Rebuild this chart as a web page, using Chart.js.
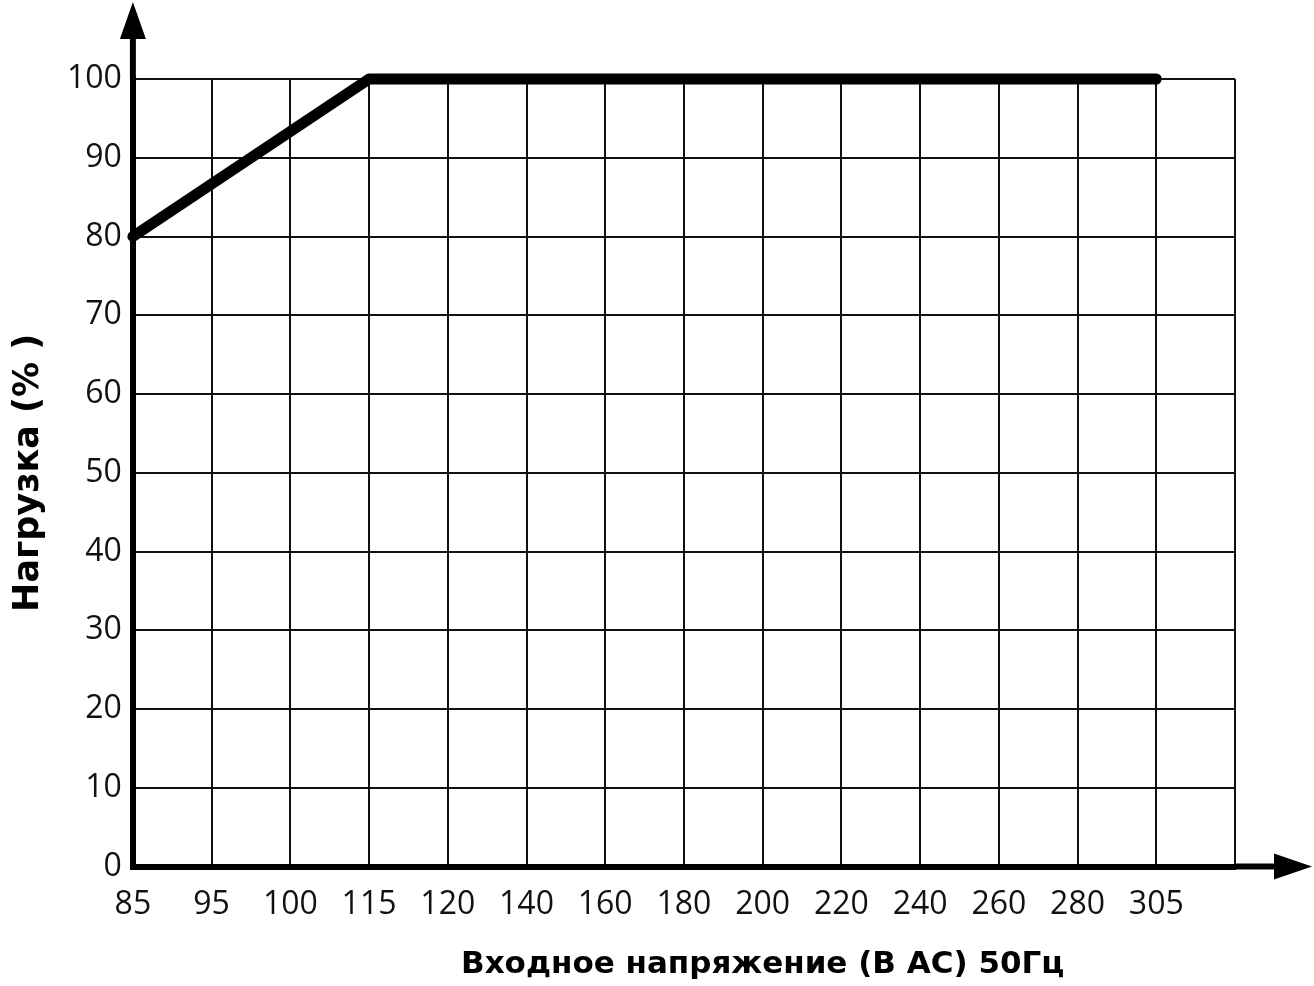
<!DOCTYPE html>
<html>
<head>
<meta charset="utf-8">
<script src="https://cdn.jsdelivr.net/npm/chart.js@4"></script>
<style>
  html, body { margin: 0; padding: 0; background: #fff; }
  #wrap { width: 1314px; height: 986px; }
</style>
</head>
<body>
<div id="wrap"><canvas id="chart"></canvas></div>
<script>
// input voltage categories (last one is an empty grid column)
const voltageLabels = ['85', '95', '100', '115', '120', '140', '160', '180', '200', '220', '240', '260', '280', '305', ''];
// load in %, null = no point (line spans straight across)
const loadValues = [80, null, null, 100, 100, 100, 100, 100, 100, 100, 100, 100, 100, 100, null];
const yTicks = [0, 10, 20, 30, 40, 50, 60, 70, 80, 90, 100];

const xTitle = 'Входное напряжение (В АС) 50Гц';
const yTitle = 'Нагрузка (% )';
const TICK_FONT = "'Open Sans', 'DejaVu Sans', sans-serif";
const TITLE_FONT = "'DejaVu Sans', 'Open Sans', sans-serif";

// draws the arrow heads on both axes and the x title
const axisArrows = {
    id: 'axisArrows',
    afterDraw(chart) {
        const ctx = chart.ctx;
        const area = chart.chartArea;
        const x = chart.scales.x;
        ctx.save();
        ctx.fillStyle = '#000';
        ctx.strokeStyle = '#000';
        ctx.lineWidth = 6;
        // y axis extension + head
        ctx.beginPath();
        ctx.moveTo(area.left, area.top);
        ctx.lineTo(area.left, 36);
        ctx.stroke();
        ctx.beginPath();
        ctx.moveTo(area.left, 2);
        ctx.lineTo(area.left - 13, 39);
        ctx.lineTo(area.left + 13, 39);
        ctx.closePath();
        ctx.fill();
        // x axis extension + head
        ctx.beginPath();
        ctx.moveTo(area.right, area.bottom);
        ctx.lineTo(1280, area.bottom);
        ctx.stroke();
        ctx.beginPath();
        ctx.moveTo(1312, area.bottom);
        ctx.lineTo(1274, area.bottom - 13);
        ctx.lineTo(1274, area.bottom + 13);
        ctx.closePath();
        ctx.fill();
        // x title, centred under the 200 V column
        ctx.font = 'bold 31px ' + TITLE_FONT;
        ctx.textAlign = 'center';
        ctx.textBaseline = 'middle';
        ctx.fillText(xTitle, x.getPixelForValue(8), 965);
        ctx.restore();
    }
};

new Chart(document.getElementById('chart').getContext('2d'), {
    type: 'line',
    data: {
        labels: voltageLabels,
        datasets: [{
            data: loadValues,
            borderColor: '#000',
            borderWidth: 11,
            borderCapStyle: 'round',
            borderJoinStyle: 'round',
            pointRadius: 0,
            spanGaps: true,
            clip: false,
            tension: 0
        }]
    },
    options: {
        responsive: true,
        maintainAspectRatio: false,
        animation: false,
        layout: {
            padding: { top: 79, right: 79, bottom: 43, left: 0 }
        },
        scales: {
            x: {
                offset: false,
                grid: { color: '#111', lineWidth: 2, drawTicks: false },
                border: { color: '#000', width: 6 },
                ticks: {
                    color: '#111',
                    font: { family: TICK_FONT, size: 32 },
                    padding: 19,
                    maxRotation: 0,
                    autoSkip: false
                }
            },
            y: {
                min: 0,
                max: 100,
                afterBuildTicks: scale => { scale.ticks = yTicks.map(v => ({ value: v })); },
                grid: { color: '#111', lineWidth: 2, drawTicks: false },
                border: { color: '#000', width: 6 },
                ticks: {
                    color: '#111',
                    font: { family: TICK_FONT, size: 32 },
                    padding: 11
                },
                title: {
                    display: true,
                    text: yTitle,
                    color: '#000',
                    font: { family: TITLE_FONT, size: 35, weight: 'bold' },
                    padding: { top: 8, bottom: 6 }
                }
            }
        },
        plugins: {
            legend: { display: false },
            tooltip: { enabled: false }
        }
    },
    plugins: [axisArrows]
});
</script>
</body>
</html>
